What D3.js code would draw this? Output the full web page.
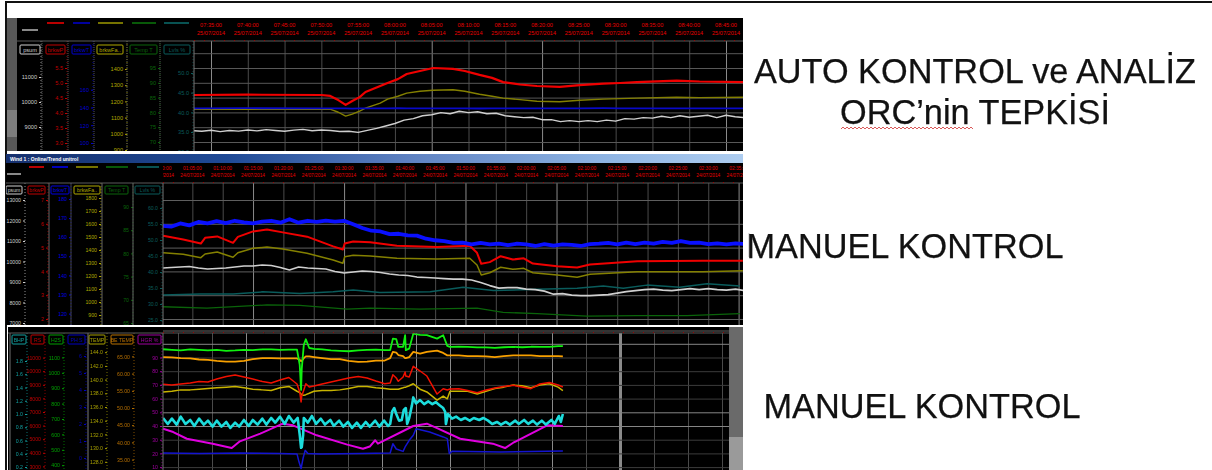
<!DOCTYPE html>
<html>
<head>
<meta charset="utf-8" />
<title>ORC trend ekranlari</title>
<script src="https://cdn.jsdelivr.net/npm/d3@7/dist/d3.min.js"></script>
<style>
body { margin: 0; background: #fff; }
text { font-family: "Liberation Sans", Arial, sans-serif; }
</style>
</head>
<body>
<script>

// --- ust ekran, dakika (07:35'ten beri) ---
var p1Times = [-2.5,5,15,16.2,17.3,18.3,19.2,20.2,21,23,24,25.4,26.6,28.4,30.2,32.9,34.5,36.5,38.2,39.7,42,44.3,47.4,50.1,53.3,55.6,57.9,63.3,66.4,72.5];
var p1Red = [4.6,4.61,4.6,4.57,4.43,4.27,4.4,4.53,4.7,4.9,5.0,5.13,5.3,5.4,5.5,5.47,5.4,5.27,5.17,5.03,4.95,4.9,4.87,4.93,4.98,5.0,5.03,5.08,5.05,5.03];
var p1Yellow = [1152,1152,1152,1152,1133,1109,1121,1140,1158,1189,1214,1232,1251,1263,1269,1272,1263,1244,1232,1220,1211,1201,1198,1207,1214,1217,1220,1226,1223,1226];
var p1Blue = [139,139.2,139,139.1,139,139,138.8,139,139.1,139,139,139.2,139,139,139.1,139,139,138.9,139,139,139.1,139,139,139,139.2,139,139,139.1,139,139];
var p1WhiteTimes = d3.range(-2.5, 73, 1.25);
var p1White = [8850,8830,8870,8815,8860,8835,8880,8845,8895,8860,8830,8875,8905,8850,8880,8860,
  8824,8830,8785,8865,8945,9040,9140,9275,9335,9450,
  9490,9575,9530,9630,9575,9610,9530,9550,9450,9410,
  9375,9390,9295,9295,9215,9255,9215,9255,9215,9275,
  9235,9335,9315,9375,9355,9430,9375,9450,9390,9430,
  9470,9375,9470,9410,9375];

// --- orta ekran, dakika ---
var p2Times = [0.2,3.5,6.4,7.1,9.1,11.7,12.5,15,17.3,19.9,23.9,28.2,29.8,30.1,31.5,34.3,38.7,45.3,50.7,51.9,52.6,54,55.8,57.8,59.6,61.1,65.1,68.4,70.5,78.3,89.1,95.7];
var p2Red = [5.50,5.34,5.17,5.41,5.47,5.20,5.45,5.68,5.76,5.64,5.46,5.05,4.92,5.17,5.26,5.22,5.08,5.03,5.08,4.78,4.32,4.39,4.64,4.50,4.55,4.33,4.22,4.16,4.29,4.43,4.45,4.45];
var p2Yellow = [1379,1367,1341,1369,1385,1344,1379,1413,1423,1408,1375,1323,1298,1348,1359,1354,1336,1331,1336,1285,1208,1225,1267,1252,1259,1225,1208,1190,1213,1233,1233,1241];
var p2FineTimes = d3.range(0, 97, 1.5);
var p2Blue = [166.0,165.5,167.2,166.2,168.0,167.2,168.4,167.4,168.6,167.8,
  167.2,168.2,168.6,167.6,169.4,167.6,168.6,168.0,168.7,168.2,
  168.6,166.8,164.8,163.4,163.0,161.6,161.8,161.0,160.8,159.2,
  158.4,157.9,157.0,157.2,156.2,157.0,156.2,156.6,155.8,156.6,
  156.2,155.4,156.4,155.6,156.2,156.0,155.4,156.4,156.6,157.0,
  156.2,157.2,156.4,157.2,156.6,157.6,157.0,158.0,157.0,157.2,
  156.4,156.8,156.2,156.8,156.4];
var p2White = [9682,9706,9730,9755,9682,9632,9657,9682,9730,9780,
  9780,9828,9804,9706,9583,9730,9682,9657,9632,9510,
  9436,9485,9534,9510,9461,9388,9338,9314,9240,9216,
  9192,9167,9142,9142,9094,8971,8824,8702,8726,8726,
  8652,8628,8555,8408,8432,8358,8334,8334,8358,8383,
  8456,8530,8579,8628,8652,8604,8579,8628,8677,8628,
  8677,8628,8604,8652,8579];
var p2TealTimes = [0.2,6.3,11.7,16.6,22.7,28.2,31.5,35.9,44.2,49.6,54.6,61.8,68.4,72.7,76,79.9,85.3,89.8,95.2];
var p2Teal = [32.8,33.1,33.1,33.8,33.3,33.8,34.4,33.6,33.8,35.2,34.2,34.6,34.9,35.6,34.9,35.9,35.2,36.3,35.6];
var p2GreenTimes = [0.2,7.4,17.3,22.7,30.5,34.3,42.5,51.9,56.2,61.8,70,78.3,86.5,95.2];
var p2Green = [68.5,68.2,68.9,68.8,68.0,68.2,68.0,68.2,67.3,67.0,66.5,66.6,66.6,67.0];

// --- alt ekran, dakika ---
var p3Times = [-2.2,-.9,.4,1.8,3.1,4.4,5.7,7.1,8.4,9.7,11,12.4,13.7,15,16.3,17.5,17.9,18.1,18.2,18.5,18.8,19.3,20,21.2,22.5,23.8,25.1,26.5,27.8,29.1,30.4,31.2,31.6,32.1,32.4,33.1,33.4,33.5,34,34.6,35.6,36.6,38.1,39,39.6,40,41.3,42.6,44,45.3,46.6,47.9,49.3,50.6,51.9,53.2,54.6,55.9,56.6];
var p3Green = [1153,1149,1145,1152,1149,1145,1149,1143,1145,1149,1147,1152,1152,1149,1150,1150,1051,889,1025,1181,1218,1161,1155,1152,1145,1142,1140,1145,1149,1150,1147,1147,1222,1218,1168,1168,1244,1147,1157,1254,1246,1244,1222,1244,1175,1168,1169,1168,1165,1165,1162,1166,1168,1166,1169,1168,1168,1173,1173];
var p3Orange = [64.8,64.7,64.5,64.4,64.1,64.0,63.7,63.5,63.5,63.7,64.2,64.5,64.5,64.4,64.4,64.4,64.0,63.6,63.7,64.5,65.0,65.0,64.8,64.5,64.2,64.2,63.7,63.4,63.5,63.8,63.8,64.5,66.3,66.1,65.4,65.1,64.5,64.5,64.8,66.3,65.8,66.3,66.7,66.0,65.3,65.3,65.3,65.1,65.1,65.0,64.8,65.1,65.3,65.3,65.3,65.1,65.1,65.1,65.0];
var p3Red = [9036,8985,9058,9132,9242,9205,9426,9609,9720,9573,9426,9242,9132,9352,9536,9058,8470,7735,8176,8617,9080,8838,8911,9058,9205,9352,9499,9609,9499,9279,9080,9132,9742,9499,9256,9573,9940,9646,9573,10359,10014,9646,8323,8713,8617,8691,8713,8580,8419,8617,8764,8874,8962,8838,8713,9058,9168,8985,8838];
var p3Yellow = [138.2,138.3,138.5,138.5,138.6,138.7,138.8,138.9,139.0,138.8,138.6,138.5,138.4,138.8,139.0,138.3,138.1,137.9,137.8,137.7,137.8,138.0,138.3,138.4,138.4,138.5,138.7,139.0,139.0,138.8,138.7,138.6,138.6,138.6,138.6,138.8,138.9,138.9,139.1,139.4,138.6,138.2,137.0,137.6,137.2,138.3,138.3,138.3,137.9,138.3,138.7,138.9,139.2,139.1,138.8,139.2,139.4,138.9,138.4];
var p3CyanTimes = [-2.2,-1.5,-.9,-.2,.4,1.1,1.8,2.4,3.1,3.8,4.4,5.1,5.7,6.4,7.1,7.7,8.4,9,9.7,10.4,11,11.7,12.4,13,13.7,14.3,15,15.7,16.3,17,17.6,17.9,18.1,18.2,18.4,18.5,19.1,19.7,20.3,21,21.6,22.4,22.9,23.7,24.3,25,25.6,26.3,26.9,27.6,28.2,29,29.6,30.3,30.9,31.2,31.5,31.8,32.1,32.5,32.9,33.2,33.5,33.7,34,34.4,34.6,35,35.6,36.2,36.8,37.4,37.9,38.5,39,39.3,39.4,39.7,40.3,40.9,41.6,42.2,42.9,43.5,44.3,44.9,45.6,46.2,46.9,47.5,48.2,48.8,49.6,50.1,50.9,51.5,52.2,52.8,53.5,54.1,54.9,55.4,56,56.3,56.6];
var p3Cyan = [.94,.85,.93,.84,.96,.85,.91,.82,.93,.84,
  .90,.81,.90,.81,.88,.79,.87,.81,.91,.82,
  .91,.84,.93,.84,.94,.87,.96,.85,.97,.87,
  .94,.69,.49,.50,.68,.94,
  .87,.97,.85,.93,.84,
  .91,.82,.90,.81,.88,
  .79,.87,.79,.88,.81,
  .90,.81,.90,.82,.85,
  1.04,1.09,1.0,.90,.91,
  1.06,1.09,.85,.94,1.13,
  1.25,1.16,1.21,1.15,1.19,
  1.15,1.18,1.13,1.09,1.03,
  .85,1.0,.93,.96,.91,
  .94,.90,.94,.91,.94,
  .90,.85,.88,.84,.88,
  .84,.90,.85,.91,.85,
  .90,.84,.90,.84,.91,
  .85,.97,.88,1.0];
var p3MagentaTimes = [-2.2,-.7,1.3,5.1,7.9,9.1,12.1,15.4,16.9,20.4,24.9,27.2,28.2,29,29.4,34.6,36.6,38.1,41.5,46.3,48.1,49.3,54.3,56.6];
var p3Magenta = [38.0,35.6,30.7,27.1,23.9,28.8,34.4,41.7,40.5,33.2,26.4,23.4,25.0,29.6,27.1,40,41.7,38.5,30.7,27.1,23.9,27.8,40.5,40];
var p3BlueTimes = [-2.2,3.2,9.1,15,17.5,17.8,18.1,18.4,18.7,19.1,20.9,26.8,31.2,31.6,32.1,33.1,33.4,34,34.6,35,37,39,39.6,39.9,40.3,47.4,56.6];
var p3Blue = [2.9,2.6,2.9,2.6,2.4,-2.4,-6.2,0,4.5,2.6,2.4,2.6,2.9,8.4,5.3,3.9,6.5,10.4,13.4,17.2,15.3,12.4,11.4,2.6,4.0,3.5,4.1];

// eksen etiketleri
var p1TimeTicks = d3.range(0, 71, 5);
var p2TimeTicks = d3.range(0, 96, 5);
var p3TimeTicks = d3.range(0, 81, 5);
var p1Labels = ["psum", "brkwP", "brkwT", "brkwFa..", "Temp T", "Lvls %"];
var p2Labels = ["psum", "brkwP", "brkwT", "brkwFa..", "Temp T", "Lvls %"];
var p3Labels = ["BHP", "RS", "H2S", "PH S", "TEMP", "BE TEMP", "HGR %"];
var titles = ["AUTO KONTROL ve ANALİZ", "ORC’nin TEPKİSİ", "MANUEL KONTROL", "MANUEL KONTROL"];

var white = "#cfcfcf", red = "#d80000", blue1 = "#0808c8", blue2 = "#0a10ff", olive = "#848000", green = "#0a640a", teal = "#0a5c5c";

var svg = d3.select("body").append("svg").attr("width", 1212).attr("height", 470);

var defs = svg.append("defs");
var grad = defs.append("linearGradient").attr("id", "bar");
[[0, "#16306e"], [.3, "#1f4a96"], [.55, "#5f82c2"], [.8, "#8cb2e2"], [1, "#aecdf0"]].forEach(function(s) {
	grad.append("stop").attr("offset", s[0]).attr("stop-color", s[1]);
});

svg.append("rect").attr("x", 5).attr("y", 1).attr("width", 1207).attr("height", 2).attr("fill", "#111");
svg.append("rect").attr("x", 5).attr("y", 1).attr("width", 2).attr("height", 469).attr("fill", "#111");

var shots = svg.append("g").style("filter", "blur(0.7px)");

function box(x, y, w, h, fill) {
	return shots.append("rect").attr("x", x).attr("y", y).attr("width", w).attr("height", h).attr("fill", fill);
}

function drawPanel(p) {
	box(p.left, p.top, p.right - p.left, p.bottom - p.top, "#000");
	var x = d3.scaleLinear().domain(p.xDomain).range(p.xRange);
	var id = "clip" + p.name;
	defs.append("clipPath").attr("id", id).append("rect")
		.attr("x", p.plotLeft).attr("y", p.plotTop).attr("width", p.plotRight - p.plotLeft).attr("height", p.bottom - p.plotTop);
	defs.append("clipPath").attr("id", id + "h").append("rect")
		.attr("x", p.plotLeft).attr("y", p.top).attr("width", p.plotRight - p.plotLeft).attr("height", p.bottom - p.top);
	defs.append("clipPath").attr("id", id + "p").append("rect")
		.attr("x", p.left).attr("y", p.top).attr("width", p.right - p.left).attr("height", p.bottom - p.top);

	var g = shots.append("g").attr("clip-path", "url(#" + id + "p)");
	var plot = g.append("g").attr("clip-path", "url(#" + id + ")");

	// dikey ve yatay izgara
	[[p.timeTicks.filter(function(t) { return p.brightTimes.indexOf(t) < 0; }), "#4a4a4a"], [p.brightTimes, "#8a8a8a"]].forEach(function(s) {
		plot.append("g").attr("transform", "translate(0," + p.bottom + ")")
			.call(d3.axisTop(x).tickValues(s[0]).tickSize(p.bottom - p.plotTop).tickFormat(""))
			.call(function(a) {
				a.select(".domain").remove();
				a.selectAll("line").attr("stroke", s[1]).attr("stroke-width", function(t) { return t === p.thickTime ? 3 : 1; });
			});
	});
	plot.append("g").attr("transform", "translate(" + p.plotLeft + ",0)")
		.call(d3.axisRight(p.gridAxis.scale).tickValues(p.gridAxis.ticks).tickSize(p.plotRight - p.plotLeft).tickFormat(""))
		.call(function(a) {
			a.select(".domain").remove();
			a.selectAll("line").attr("stroke", function(v) { return (p.gridAxis.bright || []).indexOf(v) >= 0 ? "#858585" : p.gridAxis.color; });
		});

	// kolon eksenleri
	p.axes.forEach(function(ax) {
		var col = g.append("g").attr("transform", "translate(" + ax.x + ",0)")
			.call(d3.axisLeft(ax.scale).tickValues(ax.ticks).tickSize(2).tickPadding(2).tickFormat(ax.format || d3.format("d")));
		col.selectAll("text").attr("fill", ax.color).attr("font-size", p.fontSize);
		col.selectAll("line").attr("stroke", ax.color);
		col.select(".domain").attr("stroke", ax.color).attr("stroke-dasharray", "1 2").attr("stroke-opacity", .7)
			.attr("d", "M0," + p.plotTop + "V" + p.bottom);
		g.append("rect").attr("x", ax.box[0]).attr("y", p.boxTop).attr("width", ax.box[1] - ax.box[0]).attr("height", p.boxHeight)
			.attr("fill", "#000").attr("stroke", ax.color).attr("rx", 1);
		g.append("text").attr("x", (ax.box[0] + ax.box[1]) / 2).attr("y", p.boxTop + p.boxHeight - 2.5)
			.attr("text-anchor", "middle").attr("font-size", p.fontSize).attr("fill", ax.color).text(ax.label);
	});

	// kolon ayiricilari
	p.dividers.forEach(function(d) {
		g.append("line").attr("x1", d[0]).attr("x2", d[0]).attr("y1", p.plotTop).attr("y2", p.bottom)
			.attr("stroke", d[1]).attr("stroke-width", 1).attr("stroke-dasharray", d[2] || null);
	});

	p.legend.forEach(function(l) {
		g.append("line").attr("x1", l[0]).attr("x2", l[1]).attr("y1", l[2]).attr("y2", l[2]).attr("stroke", l[3]).attr("stroke-width", 1.8);
	});

	g.append("line").attr("x1", p.left).attr("x2", p.plotRight).attr("y1", p.plotTop).attr("y2", p.plotTop).attr("stroke", "#5a5a5a");
	g.append("line").attr("x1", p.plotLeft).attr("x2", p.plotRight).attr("y1", p.plotTop - .5).attr("y2", p.plotTop - .5)
		.attr("stroke", "#a00000").attr("stroke-dasharray", "1 9");

	// zaman etiketleri
	if (p.baseTime) {
		var head = g.append("g").attr("clip-path", "url(#" + id + "h)");
		var fmt = d3.timeFormat("%H:%M:%S");
		p.timeTicks.forEach(function(t) {
			var when = new Date(p.baseTime.getTime() + t * 60000);
			head.append("text").attr("x", x(t)).attr("y", p.labelY[0]).attr("text-anchor", "middle")
				.attr("font-size", p.labelSize).attr("fill", "#e80000").text(fmt(when));
			head.append("text").attr("x", x(t)).attr("y", p.labelY[1]).attr("text-anchor", "middle")
				.attr("font-size", p.labelSize).attr("fill", "#e80000").text(p.dateText);
		});
	}

	// seriler
	p.series.forEach(function(s) {
		var line = d3.line().x(function(d) { return x(d[0]); }).y(function(d) { return s.scale(d[1]); });
		plot.append("path").datum(d3.zip(s.times, s.values))
			.attr("fill", "none").attr("stroke", s.color).attr("stroke-width", s.width).attr("stroke-linejoin", "round")
			.attr("d", line);
	});
}

function linear(d0, y0, d1, y1) {
	return d3.scaleLinear().domain([d0, d1]).range([y0, y1]);
}

// ust ekran
var p1S = {
	white: linear(11000, 77, 10000, 102),
	red: linear(5, 83, 4, 113),
	blue: linear(180, 72, 100, 143),
	yellow: linear(1400, 69, 900, 150),
	green: linear(95, 68, 70, 142),
	teal: linear(50, 73, 35, 132)
};
box(7, 18, 10, 133, "#585858");
box(7, 110, 10, 27, "#7d7d7d");
drawPanel({
	name: "a", left: 17, right: 743, top: 18, bottom: 151,
	plotLeft: 194, plotRight: 743, plotTop: 41,
	xDomain: [0, 70], xRange: [211, 726],
	timeTicks: p1TimeTicks, brightTimes: [0, 30, 45, 70],
	baseTime: new Date(2014, 6, 25, 7, 35), dateText: "25/07/2014", labelY: [27, 35], labelSize: 5.6,
	fontSize: 5.6, boxTop: 45, boxHeight: 9,
	gridAxis: { scale: p1S.green, ticks: [70, 75, 80, 85, 90, 95, 100], color: "#585858" },
	axes: [
		{ x: 41, scale: p1S.white, ticks: [11000, 10000, 9000], color: white, label: p1Labels[0], box: [20, 40] },
		{ x: 67, scale: p1S.red, ticks: [5.5, 5, 4.5, 4, 3.5, 3], format: d3.format(".1f"), color: "#c00000", label: p1Labels[1], box: [46, 65] },
		{ x: 93, scale: p1S.blue, ticks: [160, 140, 120, 100], color: "#0000d0", label: p1Labels[2], box: [72, 91] },
		{ x: 127, scale: p1S.yellow, ticks: [1400, 1300, 1200, 1100, 1000, 900], color: "#b0a800", label: p1Labels[3], box: [97, 123] },
		{ x: 160, scale: p1S.green, ticks: [95, 90, 85, 80, 75, 70], color: green, label: p1Labels[4], box: [130, 157] },
		{ x: 193, scale: p1S.teal, ticks: [50, 45, 40, 35, 30], format: d3.format(".1f"), color: teal, label: p1Labels[5], box: [164, 190] }
	],
	dividers: [[42, "#555", "1 1"], [68, "#555", "1 1"], [94, "#555", "1 1"], [127, "#555", "1 1"], [160, "#555", "1 1"], [194, "#777"]],
	legend: [[47, 64, 23, "#d00000"], [73, 90, 23, "#0000b0"], [98, 123, 23, olive], [132, 156, 23, green], [164, 189, 23, teal], [22, 38, 30, "#999"]],
	series: [
		{ times: p1Times, values: p1Yellow, scale: p1S.yellow, color: olive, width: 1.4 },
		{ times: p1Times, values: p1Blue, scale: p1S.blue, color: blue1, width: 1.8 },
		{ times: p1Times, values: p1Red, scale: p1S.red, color: "#f00000", width: 2.2 },
		{ times: p1WhiteTimes, values: p1White, scale: p1S.white, color: white, width: 1.5 }
	]
});

// orta ekran
box(6, 154, 737, 9, "url(#bar)");
shots.append("text").attr("x", 10).attr("y", 161).attr("font-size", 5).attr("font-weight", "bold").attr("fill", "#fff").text("Wind 1 : Online/Trend unitrol");
var p2S = {
	white: linear(13000, 200, 7000, 323),
	red: linear(7, 200, 2, 319),
	blue: linear(180, 199, 120, 313.6),
	yellow: linear(1800, 198, 900, 315),
	green: linear(90, 207, 65, 323),
	teal: linear(60, 208, 25, 320)
};
drawPanel({
	name: "b", left: 6, right: 743, top: 163, bottom: 325,
	plotLeft: 163, plotRight: 743, plotTop: 183,
	xDomain: [0, 95], xRange: [162, 738.6],
	timeTicks: p2TimeTicks, brightTimes: [15, 30, 50, 65, 95],
	baseTime: new Date(2014, 6, 24, 1, 0), dateText: "24/07/2014", labelY: [170, 177], labelSize: 4.8,
	fontSize: 5.2, boxTop: 186, boxHeight: 8,
	gridAxis: { scale: p2S.red, ticks: [2, 3, 4, 5, 6, 7], color: "#5e5e5e" },
	axes: [
		{ x: 25, scale: p2S.white, ticks: [13000, 12000, 11000, 10000, 9000, 8000, 7000], color: white, label: p2Labels[0], box: [6, 22] },
		{ x: 48, scale: p2S.red, ticks: [7, 6, 5, 4, 3, 2], color: "#c00000", label: p2Labels[1], box: [28, 45] },
		{ x: 71, scale: p2S.blue, ticks: [180, 170, 160, 150, 140, 130, 120], color: "#0000e0", label: p2Labels[2], box: [51, 69] },
		{ x: 101, scale: p2S.yellow, ticks: [1800, 1700, 1600, 1500, 1400, 1300, 1200, 1100, 1000, 900], color: "#b0a800", label: p2Labels[3], box: [74, 100] },
		{ x: 133, scale: p2S.green, ticks: [90, 85, 80, 75, 70, 65], color: green, label: p2Labels[4], box: [105, 128] },
		{ x: 162, scale: p2S.teal, ticks: [60, 55, 50, 45, 40, 35, 30, 25], format: d3.format(".1f"), color: teal, label: p2Labels[5], box: [135, 160] }
	],
	dividers: [[49, "#666"], [71, "#444"], [102, "#666"], [133, "#666"], [163, "#777"]],
	legend: [[29, 44, 167, "#d00000"], [52, 68, 167, "#0000d0"], [76, 98, 167, olive], [106, 128, 167, green], [137, 159, 167, teal], [7, 21, 174, "#999"]],
	series: [
		{ times: p2GreenTimes, values: p2Green, scale: p2S.green, color: green, width: 1.3 },
		{ times: p2TealTimes, values: p2Teal, scale: p2S.teal, color: teal, width: 1.5 },
		{ times: p2FineTimes, values: p2White, scale: p2S.white, color: white, width: 1.6 },
		{ times: p2Times, values: p2Yellow, scale: p2S.yellow, color: olive, width: 1.5 },
		{ times: p2Times, values: p2Red, scale: p2S.red, color: "#f00000", width: 2 },
		{ times: p2FineTimes, values: p2Blue, scale: p2S.blue, color: blue2, width: 3.8 }
	]
});

// alt ekran
box(729, 327, 14, 143, "#6a6a6a");
box(729, 437, 14, 33, "#9a9a9a");
var p3S = {
	cyan: linear(1, 414, .2, 467),
	red: linear(7000, 412, 3000, 466.4),
	green: linear(700, 419, 400, 465.2),
	blue: linear(30, 407, 0, 458),
	yellow: linear(136, 407, 128, 461.8),
	orange: linear(50, 408, 35, 459.6),
	magenta: linear(40, 426, 10, 467.1)
};
drawPanel({
	name: "c", left: 8, right: 729, top: 327, bottom: 470,
	plotLeft: 163, plotRight: 729, plotTop: 333,
	xDomain: [0, 80], xRange: [178, 722],
	timeTicks: p3TimeTicks, brightTimes: [10, 30, 35, 40, 55, 65], thickTime: 65,
	fontSize: 5.2, boxTop: 335, boxHeight: 9,
	gridAxis: { scale: p3S.magenta, ticks: d3.range(10, 101, 10), color: "#3c3c3c", bright: [100, 50, 40] },
	axes: [
		{ x: 27, scale: p3S.cyan, ticks: [1.8, 1.6, 1.4, 1.2, 1, .8, .6, .4, .2], format: d3.format(".1f"), color: "#12a0a0", label: p3Labels[0], box: [12, 26] },
		{ x: 45, scale: p3S.red, ticks: [11000, 10000, 9000, 8000, 7000, 6000, 5000, 4000, 3000], color: "#c00000", label: p3Labels[1], box: [31, 44] },
		{ x: 64, scale: p3S.green, ticks: [1100, 1000, 900, 800, 700, 600, 500, 400], color: "#00a000", label: p3Labels[2], box: [49, 63] },
		{ x: 86, scale: p3S.blue, ticks: [60, 50, 40, 30, 20, 10, 0], format: function(d) { return d / 10; }, color: "#0000c0", label: p3Labels[3], box: [68, 85] },
		{ x: 107, scale: p3S.yellow, ticks: [144, 142, 140, 138, 136, 134, 132, 130, 128], format: d3.format(".1f"), color: "#a8a000", label: p3Labels[4], box: [89, 105] },
		{ x: 134, scale: p3S.orange, ticks: [65, 60, 55, 50, 45, 40, 35], format: d3.format(".2f"), color: "#b87000", label: p3Labels[5], box: [111, 133] },
		{ x: 162, scale: p3S.magenta, ticks: [90, 80, 70, 60, 50, 40, 30, 20, 10], color: "#a000a0", label: p3Labels[6], box: [138, 161] }
	],
	dividers: [[10, "#707070"], [88, "#7a7a7a"], [163, "#707070"]],
	legend: [],
	series: [
		{ times: p3BlueTimes, values: p3Blue, scale: p3S.blue, color: "#1414d0", width: 1.5 },
		{ times: p3MagentaTimes, values: p3Magenta, scale: p3S.magenta, color: "#e000e0", width: 2 },
		{ times: p3CyanTimes, values: p3Cyan, scale: p3S.cyan, color: "#1cdcdc", width: 2.6 },
		{ times: p3Times, values: p3Yellow, scale: p3S.yellow, color: "#c8b400", width: 1.5 },
		{ times: p3Times, values: p3Red, scale: p3S.red, color: "#f01000", width: 1.5 },
		{ times: p3Times, values: p3Orange, scale: p3S.orange, color: "#f8a000", width: 1.8 },
		{ times: p3Times, values: p3Green, scale: p3S.green, color: "#10f010", width: 1.8 }
	]
});
shots.append("line").attr("x1", 163).attr("x2", 729).attr("y1", 331).attr("y2", 331).attr("stroke", "#666");
box(748, 233, 2, 24, "#dcdcdc");

// sag taraftaki basliklar
var heads = svg.append("g").style("filter", "blur(0.3px)").attr("fill", "#111").attr("stroke", "#111").attr("stroke-width", .25).attr("font-size", 34.3);
heads.append("text").attr("x", 975).attr("y", 83).attr("text-anchor", "middle").text(titles[0]);
heads.append("text").attr("x", 975).attr("y", 124).attr("text-anchor", "middle").text(titles[1]);
heads.append("text").attr("x", 905).attr("y", 258).attr("text-anchor", "middle").text(titles[2]);
heads.append("text").attr("x", 922).attr("y", 418).attr("text-anchor", "middle").text(titles[3]);

// yazim denetimi dalgasi
var wave = d3.range(841, 974, 2);
svg.append("path").datum(wave).attr("fill", "none").attr("stroke", "#d03030").attr("stroke-width", .8)
	.attr("d", d3.line().x(function(d) { return d; }).y(function(d, i) { return i % 2 ? 127 : 129; }));

</script>
</body>
</html>
